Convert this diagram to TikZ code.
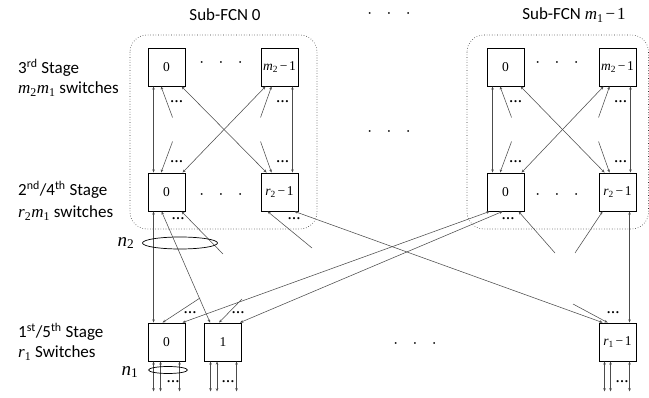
\documentclass[tikz,border=0pt]{standalone}
\usepackage{fontspec}
\setmainfont{Liberation Serif}
\newfontfamily\lblfont{Carlito}
\usetikzlibrary{arrows.meta,calc}
\newcommand{\iv}[2]{{\rmfamily\itshape #1}\textsubscript{\rmfamily #2}}
\newcommand{\mn}{\hspace{0.12em}\rmfamily\symbol{"2212}\hspace{0.12em}}
\newcommand{\sd}{\textbf{\symbol{"2026}}}
\tikzset{
  sw/.style={draw, line width=0.9pt, minimum width=37pt, minimum height=38pt, inner sep=0pt, font=\fontsize{13.5}{13.5}\selectfont},
  conn/.style={draw=black!70, line width=0.55pt},
  bi/.style={conn, {Stealth[length=3.2pt,width=2.6pt]}-{Stealth[length=3.2pt,width=2.6pt]}},
  one/.style={conn, -{Stealth[length=3.2pt,width=2.6pt]}},
  lbl/.style={font=\lblfont\fontsize{17}{17}\selectfont, inner sep=0pt},
  sdots/.style={font=\fontsize{13}{13}\selectfont, inner sep=0pt},
  bdots/.style={font=\boldmath\fontsize{12}{12}\selectfont, inner sep=0pt},
  sub/.style={draw=black!80, dotted, line width=0.6pt, rounded corners=17pt},
  nl/.style={font=\fontsize{19}{19}\selectfont, inner sep=0pt}
}
\newcommand{\bigdots}{\(\cdot\)\hspace{15.5pt}\(\cdot\)\hspace{15.5pt}\(\cdot\)}
\begin{document}
\begin{tikzpicture}[x=1pt,y=-1pt]
\useasboundingbox (0,0) rectangle (649,398);
\clip (0,0) rectangle (649,398);
% sub-FCN frames
\draw[sub] (130,35) rectangle (317,229);
\draw[sub] (467,35) rectangle (648.5,229);
% switches
\node[sw] (L3a) at (166.5,67) {0};
\node[sw] (L3b) at (279.5,67) {\iv{m}{2}\mn 1};
\node[sw] (L2a) at (166.5,192) {0};
\node[sw] (L2b) at (279.5,192) {\iv{r}{2}\mn 1};
\node[sw] (R3a) at (505.5,67) {0};
\node[sw] (R3b) at (617.5,67) {\iv{m}{2}\mn 1};
\node[sw] (R2a) at (505.5,192) {0};
\node[sw] (R2b) at (617.5,192) {\iv{r}{2}\mn 1};
\node[sw] (E0) at (166.5,342) {0};
\node[sw] (E1) at (223,342) {1};
\node[sw] (E2) at (617.5,342) {\iv{r}{1}\mn 1};
% labels
\node[lbl] (t1) at (225,15) {Sub-FCN 0};
\node[lbl] (t2) at (574,15) {Sub-FCN \iv{m}{1}\mn 1};
\node[lbl, anchor=west] (s3a) at (18,68) {3\textsuperscript{rd} Stage};
\node[lbl, anchor=west] (s3b) at (18,89) {\iv{m}{2}\iv{m}{1} switches};
\node[lbl, anchor=west] (s2a) at (18,190) {2\textsuperscript{nd}/4\textsuperscript{th} Stage};
\node[lbl, anchor=west] (s2b) at (18,213) {\iv{r}{2}\iv{m}{1} switches};
\node[lbl, anchor=west] (s1a) at (18,332) {1\textsuperscript{st}/5\textsuperscript{th} Stage};
\node[lbl, anchor=west] (s1b) at (18,353) {\iv{r}{1} Switches};
\node[bdots] (g1) at (389,14) {\bigdots};
\node[bdots] (g2) at (389,132) {\bigdots};
\node[bdots] (g3) at (415,344) {\bigdots};
\node[bdots] (g4) at (221,63) {\bigdots};
\node[bdots] (g5) at (221,195) {\bigdots};
\node[bdots] (g6) at (557,63) {\bigdots};
\node[bdots] (g7) at (557,195) {\bigdots};
% inside each sub-FCN
\foreach \P in {L,R}{
  \draw[bi] ([xshift=6pt]\P3a.south west) -- ([xshift=6pt]\P2a.north west);
  \draw[bi] ([xshift=-6pt]\P3b.south east) -- ([xshift=-6pt]\P2b.north east);
  \draw[bi] ([xshift=34pt]\P3a.south west) -- ([xshift=6pt]\P2b.north west);
  \draw[bi] ([xshift=5pt]\P3b.south west) -- ([xshift=35pt]\P2a.north west);
  \coordinate (\P3as) at ($(\P3a.south west)+(25,31)$);
  \coordinate (\P2as) at ($(\P2a.north west)+(25,-31)$);
  \coordinate (\P3bs) at ($(\P3b.south west)+(0,31)$);
  \coordinate (\P2bs) at ($(\P2b.north west)+(0,-31)$);
  \draw[one] (\P3as) -- ([xshift=13.5pt]\P3a.south west);
  \draw[one] (\P2as) -- ([xshift=13.5pt]\P2a.north west);
  \draw[one] (\P3bs) -- ([xshift=11pt]\P3b.south west);
  \draw[one] (\P2bs) -- ([xshift=11pt]\P2b.north west);
  \node[sdots] (\P d1) at ($(\P3a.south west)+(29,15)$) {\sd};
  \node[sdots] (\P d2) at ($(\P2a.north west)+(29,-11)$) {\sd};
  \node[sdots] (\P d3) at ($(\P3b.south west)+(22,15)$) {\sd};
  \node[sdots] (\P d4) at ($(\P2b.north west)+(22,-11)$) {\sd};
}
% stage 2 <-> stage 1
\draw[bi] ([xshift=6pt]L2a.south west) -- ([xshift=6pt]E0.north west);
\draw[bi] ([xshift=14pt]L2a.south west) -- ([xshift=6pt]E1.north west);
\coordinate (u1) at (223,254);
\draw[one] (u1) -- ([xshift=34pt]L2a.south west);
\coordinate (u2) at (312,248);
\draw[one] (u2) -- ([xshift=7pt]L2b.south west);
\draw[bi] ([xshift=34pt]L2b.south west) -- ([xshift=4pt]E2.north west);
\draw[bi] ([xshift=3pt]R2a.south west) -- ([xshift=35pt]E0.north west);
\draw[bi] ([xshift=16pt]R2a.south west) -- ([xshift=36pt]E1.north west);
\coordinate (u3) at (555,253);
\draw[one] (u3) -- ([xshift=32pt]R2a.south west);
\coordinate (u4) at (575,253);
\draw[one] (u4) -- ([xshift=4pt]R2b.south west);
\draw[bi] ([xshift=31pt]R2b.south west) -- ([xshift=31pt]E2.north west);
\coordinate (v1) at (200,298);
\draw[one] (v1) -- ([xshift=15pt]E0.north west);
\coordinate (v2) at (242,299);
\draw[one] (v2) -- ([xshift=15pt]E1.north west);
\coordinate (v3) at (573,304);
\draw[one] (v3) -- ([xshift=9pt]E2.north west);
\node[sdots] (m1) at (178,219) {\sd};
\node[sdots] (m2) at (294,219) {\sd};
\node[sdots] (m3) at (508,219) {\sd};
\node[sdots] (m4) at (190,313) {\sd};
\node[sdots] (m5) at (238,313) {\sd};
\node[sdots] (m6) at (613,313) {\sd};
% bundle ellipse n2
\draw[line width=0.7pt] (180,243) ellipse [x radius=37.5, y radius=6];
\node[nl] (n2) at (126,243) {\iv{n}{2}};
% stage-1 ports
\foreach \B/\a/\b/\c in {E0/6/13/32, E1/6.5/13/32.5, E2/6/12/31}{
  \foreach \o [count=\k] in {\a,\b,\c}{
    \coordinate (\B p\k) at ($(\B.south west)+(\o,30)$);
    \draw[bi] ([xshift=\o pt]\B.south west) -- (\B p\k);
  }
}
\node[sdots] (q1) at (173,382) {\sd};
\node[sdots] (q2) at (228,382) {\sd};
\node[sdots] (q3) at (622,382) {\sd};
\draw[line width=0.7pt] (168,370) ellipse [x radius=19.5, y radius=3.5];
\node[nl] (n1) at (130,372) {\iv{n}{1}};
\end{tikzpicture}
\end{document}
